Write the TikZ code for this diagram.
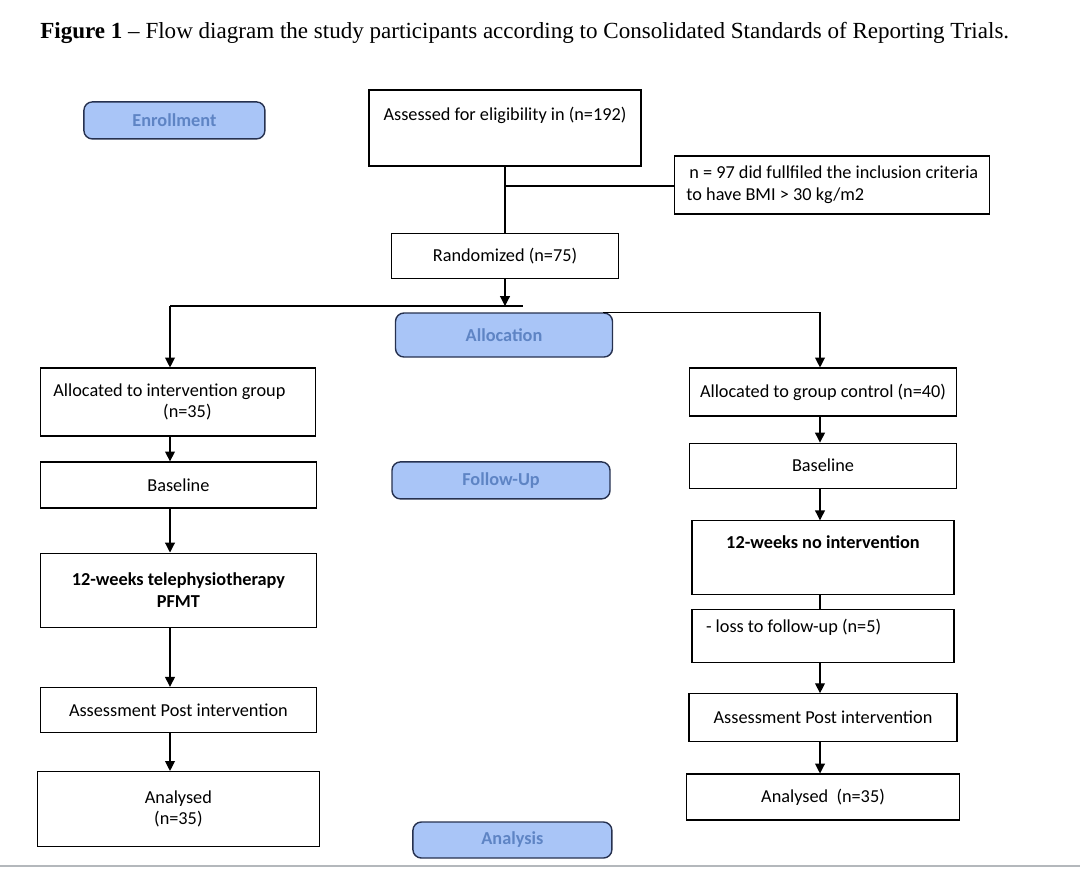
\documentclass[tikz,border=0pt]{standalone}
\usepackage{fontspec}
\setmainfont{Liberation Serif}
\newfontfamily\boxfont{Carlito}
\usepackage{tikz}
\usetikzlibrary{arrows.meta, positioning}

\definecolor{stagefill}{HTML}{A9C5F7}
\definecolor{stageline}{HTML}{26314F}
\definecolor{stagetext}{HTML}{5E84C4}
\definecolor{rulegray}{HTML}{B4B8BC}

\begin{document}
\begin{tikzpicture}[
    every node/.style={font=\boxfont\fontsize{13}{15.5}\selectfont, align=center},
    stagebox/.style={rectangle, rounded corners=6pt, draw=stageline, fill=stagefill, line width=1pt, text=stagetext, font=\boxfont\bfseries\fontsize{13}{15.5}\selectfont},
    flowbox/.style={rectangle, draw=black, line width=0.8pt, inner sep=0pt},
    toptext/.style 2 args={inner ysep=0pt, text height=#1, text depth=#2},
    link/.style={line width=0.8pt},
    arrow/.style={line width=0.8pt, -{Triangle[width=7pt,length=7pt]}}
]
\useasboundingbox (0,0) rectangle (27,-21.75);

% Title
\node[anchor=base west, inner sep=0pt, font=\fontsize{16.4}{19}\selectfont] (title) at (1.0,-0.95)
    {\textbf{Figure 1} -- Flow diagram the study participants according to Consolidated Standards of Reporting Trials.};

% Stage labels
\node[stagebox, minimum width=4.525cm, minimum height=0.925cm] (enroll) at (4.36,-3.01) {Enrollment};
\node[stagebox, minimum width=5.425cm, minimum height=1.1cm] (alloc) at (12.6,-8.375) {Allocation};
\node[stagebox, minimum width=5.45cm, minimum height=0.925cm] (follow) at (12.525,-12.01) {Follow-Up};
\node[stagebox, minimum width=4.975cm, minimum height=0.9cm] (analysis) at (12.81,-21.0) {Analysis};

% Enrollment
\node[flowbox, minimum width=6.8cm, minimum height=1.9cm, toptext={0.75cm}{1.15cm}] (assess) at (12.625,-3.2) {Assessed for eligibility in (n=192)};
\node[flowbox, minimum width=7.875cm, minimum height=1.45cm, align=left] (excl) at (20.81,-4.625)
    {\hspace*{2pt}n = 97 did fullfiled the inclusion criteria\\to have BMI > 30 kg/m2};
\node[flowbox, minimum width=5.675cm, minimum height=1.125cm, below=1.65cm of assess] (rand) {Randomized (n=75)};

% Intervention column
\node[flowbox, minimum width=6.875cm, minimum height=1.7cm] (intA) at (4.46,-10.05)
    {Allocated to intervention group\hspace*{0.45cm}\\\hspace*{0.45cm}(n=35)};
\node[flowbox, minimum width=6.9cm, minimum height=1.15cm, below=0.62cm of intA] (intB) {Baseline};
\node[flowbox, minimum width=6.9cm, minimum height=1.85cm, below=1.1cm of intB, font=\boxfont\bfseries\fontsize{13}{15.5}\selectfont] (intC) {12-weeks telephysiotherapy\\PFMT};
\node[flowbox, minimum width=6.9cm, minimum height=1.125cm, below=1.48cm of intC] (intD) {Assessment Post intervention};
\node[flowbox, minimum width=7.05cm, minimum height=1.875cm, below=0.95cm of intD] (intE) {Analysed\\(n=35)};

% Control column
\node[flowbox, minimum width=6.675cm, minimum height=1.2cm] (ctlA) at (20.575,-9.8) {Allocated to group control (n=40)};
\node[flowbox, minimum width=6.675cm, minimum height=1.125cm, below=0.65cm of ctlA] (ctlB) {Baseline};
\node[flowbox, minimum width=6.55cm, minimum height=1.85cm, below=0.79cm of ctlB, toptext={0.7cm}{1.15cm}, font=\boxfont\bfseries\fontsize{13}{15.5}\selectfont] (ctlC) {12-weeks no intervention};
\node[flowbox, minimum width=6.55cm, minimum height=1.325cm, below=0.34cm of ctlC, toptext={0.575cm}{0.75cm}, inner xsep=0.35cm] (ctlL) {\makebox[5.85cm][l]{- loss to follow-up (n=5)}};
\node[flowbox, minimum width=6.7cm, minimum height=1.2cm, below=0.75cm of ctlL] (ctlD) {Assessment Post intervention};
\node[flowbox, minimum width=6.825cm, minimum height=1.15cm, below=0.78cm of ctlD] (ctlE) {Analysed\ \ (n=35)};

% Branch points
\coordinate (branch) at (12.625,-4.65);
\coordinate (splitL) at (4.25,-7.65);
\coordinate (splitR) at (13.075,-7.65);
\coordinate (rcol) at (20.5,0);

% Connectors
\draw[link] (assess.south) -- (rand.north);
\draw[link] (branch) -- (branch -| excl.west);
\draw[arrow] (rand.south) -- (rand.south |- splitL);
\draw[link] (splitL) -- (splitR);
\draw[arrow] (splitL) -- (splitL |- intA.north);
\draw[arrow] ([xshift=-0.25cm]alloc.north east) -| (rcol |- ctlA.north);

\draw[arrow] (intA.south -| splitL) -- (intB.north -| splitL);
\draw[arrow] (intB.south -| splitL) -- (intC.north -| splitL);
\draw[arrow] (intC.south -| splitL) -- (intD.north -| splitL);
\draw[arrow] (intD.south -| splitL) -- (intE.north -| splitL);

\draw[arrow] (ctlA.south -| rcol) -- (ctlB.north -| rcol);
\draw[arrow] (ctlB.south -| rcol) -- (ctlC.north -| rcol);
\draw[link] (ctlC.south -| rcol) -- (ctlL.north -| rcol);
\draw[arrow] (ctlL.south -| rcol) -- (ctlD.north -| rcol);
\draw[arrow] (ctlD.south -| rcol) -- (ctlE.north -| rcol);

% Page rule
\draw[rulegray, line width=2pt] (0,-21.65) -- (27,-21.65);

\end{tikzpicture}
\end{document}
